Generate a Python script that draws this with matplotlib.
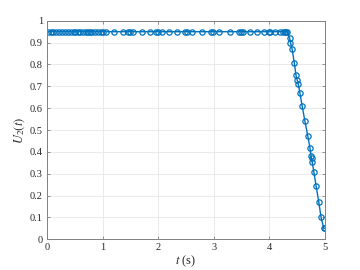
import matplotlib
matplotlib.use("Agg")
import matplotlib.pyplot as plt

t_flat = [0.01, 0.07, 0.11, 0.16, 0.22, 0.27, 0.32, 0.37, 0.43, 0.49, 0.51, 0.55,
          0.60, 0.65, 0.70, 0.74, 0.77, 0.81, 0.87, 0.92, 0.97, 1.00, 1.07, 1.21,
          1.36, 1.46, 1.49, 1.55, 1.71, 1.86, 1.96, 1.99, 2.06, 2.20, 2.33, 2.48,
          2.51, 2.60, 2.79, 2.95, 2.99, 3.10, 3.29, 3.45, 3.49, 3.53, 3.65, 3.78,
          3.90, 4.00, 4.02, 4.10, 4.19, 4.25, 4.28, 4.30, 4.32]
u_flat = [0.95] * len(t_flat)
t_drop = [4.365, 4.38, 4.41, 4.45, 4.48, 4.50, 4.52, 4.55, 4.59, 4.64, 4.69,
          4.73, 4.75, 4.76, 4.77, 4.80, 4.84, 4.89, 4.93, 4.98, 5.0]
u_drop = [0.92, 0.90, 0.87, 0.805, 0.75, 0.73, 0.71, 0.67, 0.61, 0.54, 0.475,
          0.42, 0.38, 0.37, 0.355, 0.31, 0.245, 0.17, 0.10, 0.05, 0.05]
t = t_flat + t_drop
u = u_flat + u_drop

xticks = [0, 1, 2, 3, 4, 5]
yticks = [0, 0.1, 0.2, 0.3, 0.4, 0.5, 0.6, 0.7, 0.8, 0.9, 1]
ytick_labels = ["0", "0.1", "0.2", "0.3", "0.4", "0.5", "0.6", "0.7", "0.8", "0.9", "1"]

plt.rcParams['font.family'] = ['Liberation Serif', 'DejaVu Serif']
plt.rcParams['mathtext.fontset'] = 'stix'

fig = plt.figure(figsize=(3.6, 2.7), dpi=100)
ax = fig.add_axes([0.1306, 0.1137, 0.772, 0.8093])
blue = (0, 0.447, 0.741)
ax.plot(t, u, '-o', color=blue, lw=1.0, markersize=3.8, markerfacecolor='none',
        markeredgewidth=0.9)
ax.set_xlim(0, 5)
ax.set_ylim(0, 1)
ax.set_xticks(xticks)
ax.set_yticks(yticks)
ax.set_yticklabels(ytick_labels)
ax.grid(True, color=(0.9, 0.9, 0.9), lw=0.6)
ax.set_axisbelow(True)
for s in ax.spines.values():
    s.set_color((0.5, 0.5, 0.5))
    s.set_linewidth(0.7)
ax.tick_params(direction='in', length=2.5, width=0.6, colors=(0.5, 0.5, 0.5),
               labelcolor=(0.15, 0.15, 0.15), labelsize=7.5, top=True, right=True, pad=3)
ax.set_xlabel('$t$ (s)', fontsize=9, labelpad=1, color=(0.15, 0.15, 0.15))
ax.set_ylabel('$U_2(t)$', fontsize=9, labelpad=2, color=(0.15, 0.15, 0.15))
fig.savefig('out.png', dpi=100)
